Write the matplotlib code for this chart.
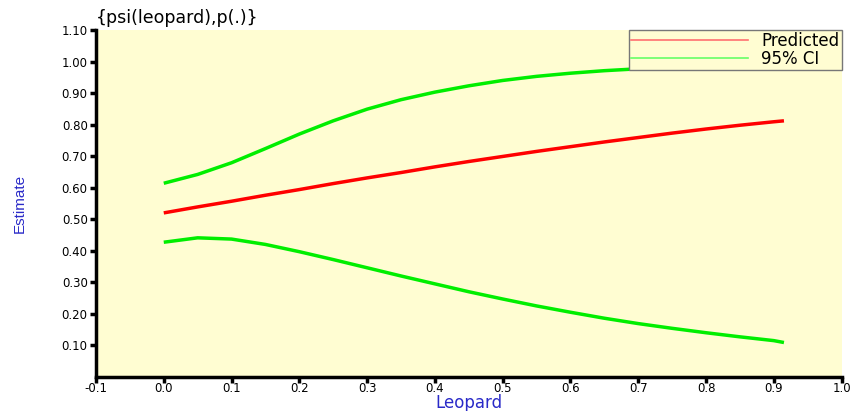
import matplotlib.pyplot as plt
from matplotlib.lines import Line2D

# occupancy estimate vs leopard covariate
leopard = [0.0, 0.05, 0.1, 0.15, 0.2, 0.25, 0.3, 0.35, 0.4, 0.45, 0.5,
           0.55, 0.6, 0.65, 0.7, 0.75, 0.8, 0.85, 0.9, 0.915]
predicted = [0.520, 0.539, 0.557, 0.576, 0.594, 0.613, 0.631, 0.648, 0.666, 0.683, 0.699,
             0.715, 0.730, 0.745, 0.759, 0.773, 0.786, 0.798, 0.809, 0.812]
ci_upper = [0.614, 0.642, 0.679, 0.724, 0.770, 0.812, 0.849, 0.879, 0.903, 0.923, 0.940,
            0.953, 0.963, 0.971, 0.977, 0.982, 0.986, 0.989, 0.992, 0.993]
ci_lower = [0.427, 0.441, 0.437, 0.420, 0.397, 0.372, 0.346, 0.320, 0.295, 0.270, 0.247,
            0.225, 0.205, 0.186, 0.169, 0.154, 0.140, 0.127, 0.115, 0.109]

xticks = [-0.1, 0.0, 0.1, 0.2, 0.3, 0.4, 0.5, 0.6, 0.7, 0.8, 0.9, 1.0]
yticks = [0.1, 0.2, 0.3, 0.4, 0.5, 0.6, 0.7, 0.8, 0.9, 1.0, 1.1]

bg = "#fffdd2"
blue = "#2a2ac8"

fig = plt.figure(figsize=(8.57, 4.11), dpi=100)
ax = fig.add_axes([0.112, 0.083, 0.870, 0.844])
ax.set_facecolor(bg)

for ys, col in [(predicted, "#ff0000"), (ci_upper, "#00ee00"), (ci_lower, "#00ee00")]:
    ax.plot(leopard, ys, color=col, lw=2.5, solid_capstyle="butt",
            solid_joinstyle="round")

ax.set_xlim(-0.1, 1.0)
ax.set_ylim(0.0, 1.1)
ax.set_xticks(xticks)
ax.set_xticklabels([f"{t:.1f}" for t in xticks])
ax.set_yticks(yticks)
ax.set_yticklabels([f"{t:.2f}" for t in yticks])

for side in ["top", "right"]:
    ax.spines[side].set_visible(False)
for side in ["left", "bottom"]:
    ax.spines[side].set_linewidth(2.5)
ax.tick_params(direction="out", length=4, width=2.5, labelsize=8.5)
ax.tick_params(axis="x", pad=0)
ax.tick_params(axis="y", pad=2)

ax.set_xlabel("Leopard", color=blue, fontsize=12, va="center")
ax.xaxis.set_label_coords(0.5, -0.075)
ax.set_ylabel("Estimate", color=blue, fontsize=11, family="Liberation Sans",
              va="center")
ax.yaxis.set_label_coords(-0.102, 0.50)
ax.set_title("{psi(leopard),p(.)}", loc="left", fontsize=12.5, pad=5)

handles = [Line2D([], [], color="#ff7070", lw=1.2),
           Line2D([], [], color="#66ff66", lw=1.2)]
leg = ax.legend(handles, ["Predicted", "95% CI"], loc="upper right",
                borderaxespad=0, fontsize=12, handlelength=7.0,
                labelspacing=0.0, borderpad=0.12, handletextpad=0.8,
                fancybox=False, framealpha=1, facecolor=bg, edgecolor="#777777")
leg.get_frame().set_linewidth(1.0)

fig.savefig("out.png", dpi=100)
